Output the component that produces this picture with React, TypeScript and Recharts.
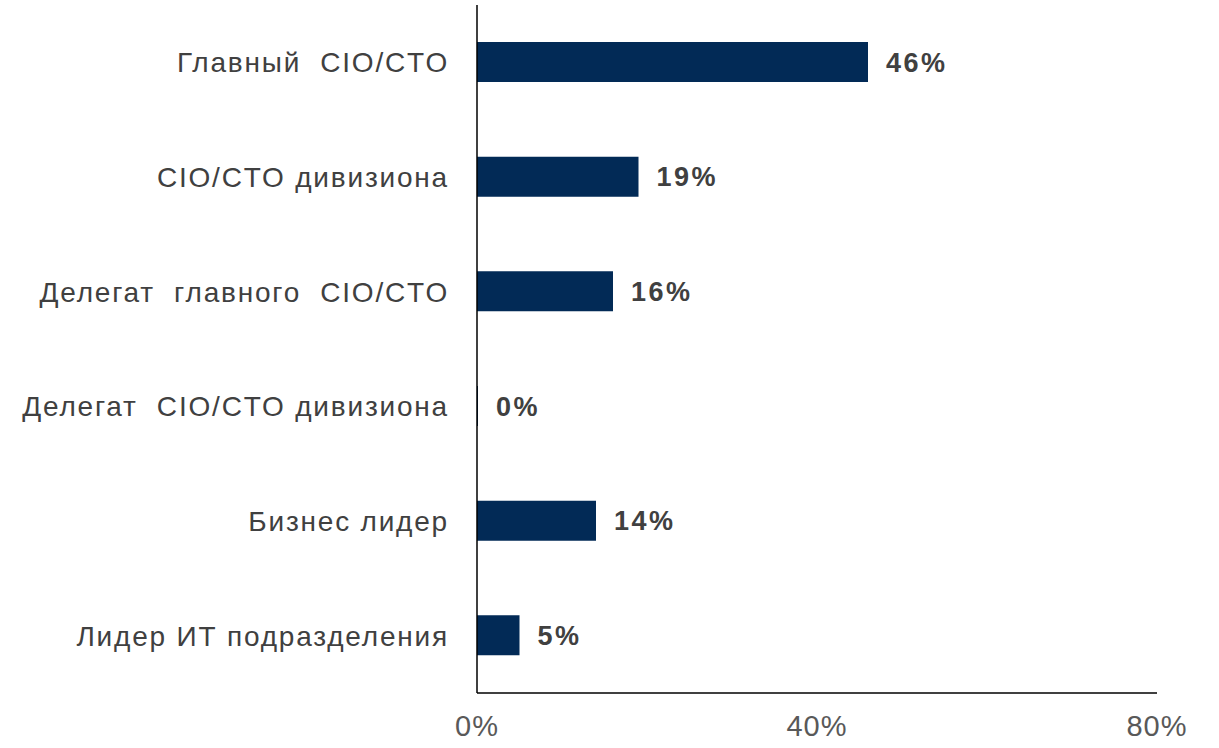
import React from "react";
import { BarChart, Bar, XAxis, YAxis, LabelList } from "recharts";

const categories = [
  "Главный\u00a0 CIO/CTO",
  "CIO/CTO дивизиона",
  "Делегат\u00a0 главного\u00a0 CIO/CTO",
  "Делегат\u00a0 CIO/CTO дивизиона",
  "Бизнес лидер",
  "Лидер ИТ подразделения",
];
const values = [46, 19, 16, 0, 14, 5];
const xTicks = [0, 40, 80];

const data = categories.map((name, i) => ({ name, value: values[i] }));

const FONT = "Liberation Sans, Arial, sans-serif";

export default function App() {
  return (
    <div style={{ position: "absolute", left: 0, top: 0, background: "#fff" }}>
      <BarChart
        width={1219}
        height={748}
        data={data}
        layout="vertical"
        margin={{ top: 5, right: 62, bottom: 0, left: 0 }}
      >
        <XAxis
          type="number"
          domain={[0, 80]}
          ticks={xTicks}
          tickFormatter={(v) => `${v}%`}
          axisLine={{ stroke: "#000", strokeWidth: 1.5 }}
          tickLine={false}
          tickSize={0}
          tickMargin={22}
          height={55}
          tick={{ fill: "#595959", fontSize: 29, fontFamily: FONT, letterSpacing: 1 }}
        />
        <YAxis
          type="category"
          dataKey="name"
          width={477}
          axisLine={{ stroke: "#000", strokeWidth: 1.5 }}
          tickLine={false}
          tickSize={0}
          tickMargin={28}
          tick={{ fill: "#404040", fontSize: 28, fontFamily: FONT, letterSpacing: 1.8 }}
        />
        <Bar dataKey="value" fill="#022a56" barSize={40} minPointSize={1} isAnimationActive={false}>
          <LabelList
            dataKey="value"
            position="right"
            offset={18}
            formatter={(v: any) => `${v}%`}
            style={{ fill: "#404040", fontSize: 27, fontWeight: "bold", fontFamily: FONT, letterSpacing: 2.5 }}
          />
        </Bar>
      </BarChart>
    </div>
  );
}
